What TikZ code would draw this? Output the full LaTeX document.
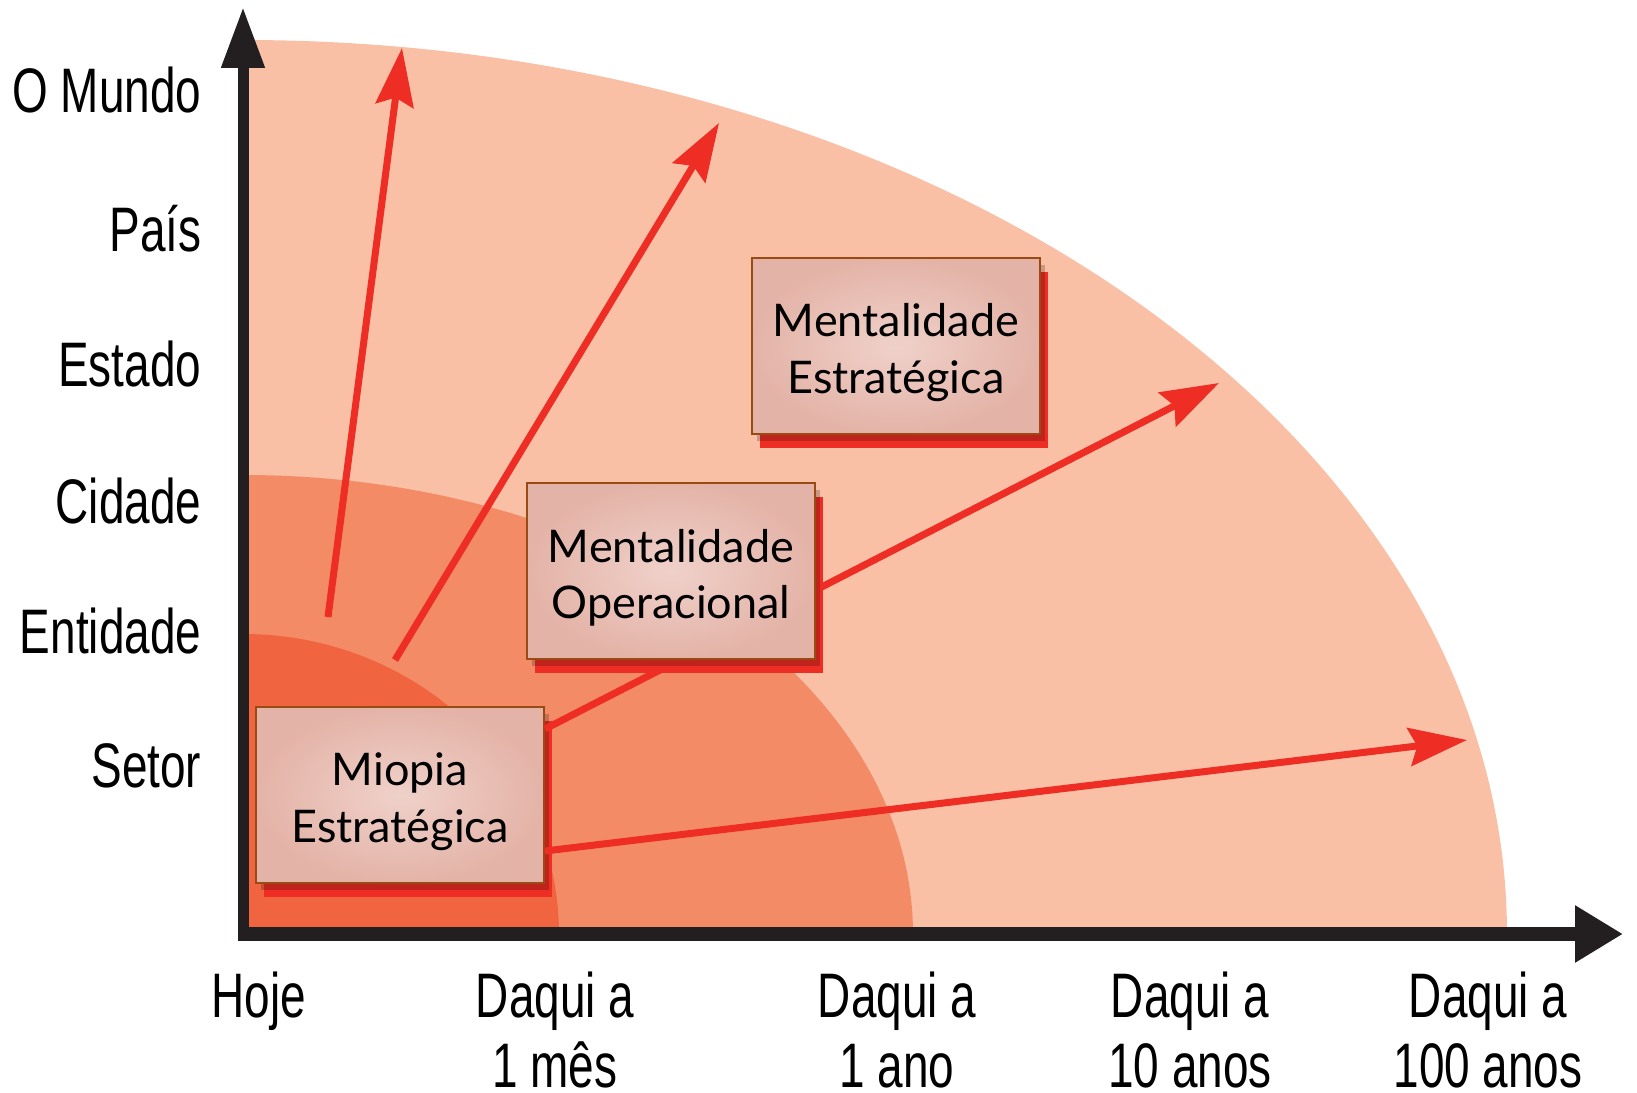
\documentclass[tikz,border=0pt]{standalone}
\usepackage{fontspec}
\setmainfont{Lato}
\newfontfamily\axisfont[FakeStretch=0.73]{Liberation Sans}
\usepackage{xcolor}
\usepackage{tikz}
\usetikzlibrary{arrows.meta,calc,shadows,positioning}

\definecolor{zoneout}{HTML}{F9C0A6}
\definecolor{zonemid}{HTML}{F38B67}
\definecolor{zonein}{HTML}{F06540}
\definecolor{arrowred}{HTML}{EE2D24}
\definecolor{boxin}{HTML}{EFD1CA}
\definecolor{boxout}{HTML}{E4B3A7}
\definecolor{boxline}{HTML}{9A4B14}
\definecolor{axisblack}{HTML}{231F20}

\tikzset{
  mindbox/.style={draw=boxline, line width=0.2mm, inner color=boxin, outer color=boxout,
    minimum width=28.8mm, minimum height=17.6mm, align=center,
    font=\fontsize{12.8}{16.0}\selectfont,
    general shadow={fill=arrowred, shadow xshift=0.8mm, shadow yshift=-1.4mm},
    drop shadow={fill=black, opacity=0.2, shadow xshift=0.5mm, shadow yshift=-0.7mm}},
  growth/.style={arrowred, line width=0.7mm, -{Stealth[length=5.8mm, width=3.8mm, inset=0.8mm]}},
  scalelabel/.style={font=\axisfont\fontsize{17.9}{21.3}\selectfont, anchor=base east, inner sep=0pt},
  timelabel/.style={font=\axisfont\fontsize{17.9}{19.9}\selectfont, align=center, anchor=base, inner sep=0pt}
}

\begin{document}
\begin{tikzpicture}[x=0.1mm, y=-0.1mm]
    \useasboundingbox (0,0) rectangle (1637,1093);
    \coordinate (o) at (243,934);

    % Horizon zones
    \fill[zoneout] (o) -- ++(1264,0) arc[start angle=0, end angle=-90, x radius=1264, y radius=894] -- cycle;
    \fill[zonemid] (o) -- ++(670,0) arc[start angle=0, end angle=-90, x radius=670, y radius=459] -- cycle;
    \fill[zonein] (o) -- ++(316,0) arc[start angle=0, end angle=-90, x radius=316, y radius=300] -- cycle;

    % Growth arrows
    \coordinate (startworld) at (328,617);
    \coordinate (startcountry) at (395,660);
    \coordinate (tipworld) at (402,48);
    \coordinate (tipcountry) at (719,123);
    \coordinate (tipstate) at (1219,383);
    \coordinate (tipsector) at (1467,740);

    \node[mindbox] (miopia) at (400,795) {\rule{0pt}{4.6mm}Miopia\\Estratégica};

    \draw[growth] (startworld) -- (tipworld);
    \draw[growth] (startcountry) -- (tipcountry);
    \draw[growth] ($(miopia.east)+(0,-66)$) -- (tipstate);
    \draw[growth] ($(miopia.east)+(0,56)$) -- (tipsector);

    \node[mindbox] (operacional) at (671,571) {\rule{0pt}{4.6mm}Mentalidade\\Operacional};
    \node[mindbox] (estrategica) at (896,346) {\rule{0pt}{4.6mm}Mentalidade\\Estratégica};

    % Axes
    \draw[axisblack, line width=1.1mm, -{Triangle[length=6.1mm, width=4.1mm]}] (243,941) -- (243,7);
    \draw[axisblack, line width=1.4mm, -{Triangle[length=4.8mm, width=5.4mm]}] (238,934) -- (1623,934);

    % Scale labels
    \node[scalelabel] (mundo) at (202,113) {O Mundo};
    \node[scalelabel] (pais) at (202,251) {País};
    \node[scalelabel] (estado) at (202,386) {Estado};
    \node[scalelabel] (cidade) at (202,523) {Cidade};
    \node[scalelabel] (entidade) at (202,653) {Entidade};
    \node[scalelabel] (setor) at (202,787) {Setor};

    % Time labels
    \node[timelabel] (hoje) at (259,1017) {Hoje};
    \node[timelabel] (mes) at (555,1087) {Daqui a\\1 mês};
    \node[timelabel] (ano) at (897,1087) {Daqui a\\1 ano};
    \node[timelabel] (dezanos) at (1190,1087) {Daqui a\\10 anos};
    \node[timelabel] (cemanos) at (1488,1087) {Daqui a\\100 anos};
\end{tikzpicture}
\end{document}
